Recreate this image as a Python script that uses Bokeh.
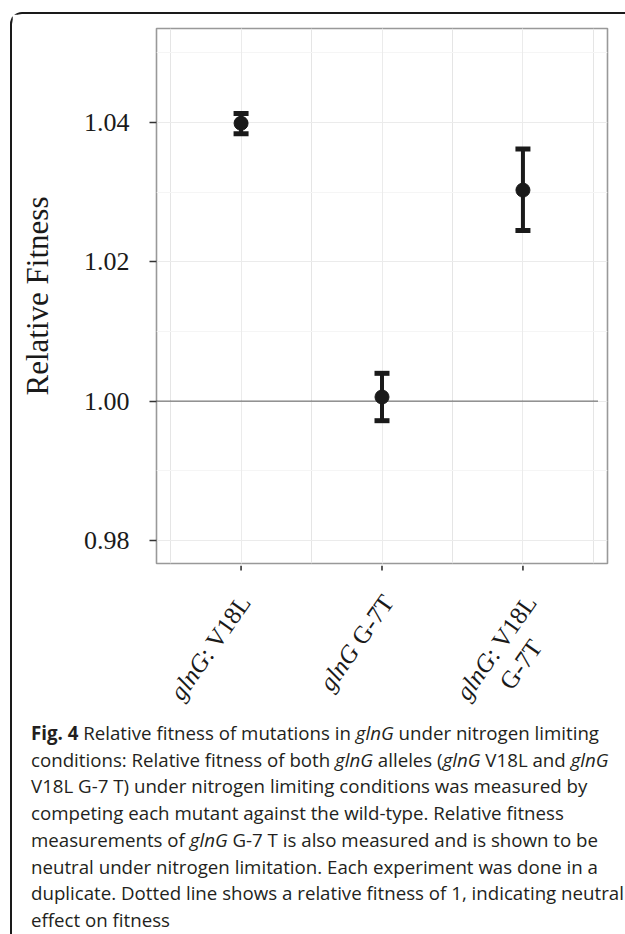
import math
from bokeh.plotting import figure
from bokeh.models import FixedTicker, Label, Div, Range1d, NumeralTickFormatter, Grid
from bokeh.layouts import column
from bokeh.embed import file_html
from bokeh.resources import INLINE

# ---------------- data ----------------
categories = ["glnG: V18L", "glnG G-7T", "glnG: V18L G-7T"]
cat_pos = [1, 2, 3]
fitness_mean = [1.0399, 1.0006, 1.0303]
fitness_upper = [1.0413, 1.0040, 1.0362]
fitness_lower = [1.0384, 0.9972, 1.0245]
y_ticks = [0.98, 1.00, 1.02, 1.04]
y_minor = [0.99, 1.01, 1.03, 1.05]
neutral_fitness = 1.0
neutral_x = [0.4, 3.53]
label_italic = ["glnG", "glnG", "glnG"]
label_upright = [": V18L", "\u00a0G-7T", ": V18L"]
label_second = ["", "", "G-7T"]

caption_html = (
    "<b>Fig. 4</b> Relative fitness of mutations in <i>glnG</i> under nitrogen limiting<br>"
    "conditions: Relative fitness of both <i>glnG</i> alleles (<i>glnG</i> V18L and <i>glnG</i><br>"
    "V18L G-7 T) under nitrogen limiting conditions was measured by<br>"
    "competing each mutant against the wild-type. Relative fitness<br>"
    "measurements of <i>glnG</i> G-7 T is also measured and is shown to be<br>"
    "neutral under nitrogen limitation. Each experiment was done in a<br>"
    "duplicate. Dotted line shows a relative fitness of 1, indicating neutral<br>"
    "effect on fitness"
)

# ---------------- layout constants ----------------
X_START, X_END = 0.4, 3.6
Y_START, Y_END = 0.9767, 1.0535
W = 612
H1, H2 = 551, 150
ML, MR, MT, MB = 144, 17, 14, 2
SERIF = "Liberation Serif"
INK = "#1a1a1a"

x_range = Range1d(X_START, X_END)
p = figure(width=W, height=H1, output_backend="svg", toolbar_location=None,
           x_range=x_range, y_range=Range1d(Y_START, Y_END),
           x_axis_location=None,
           min_border_left=ML, min_border_right=MR, min_border_top=MT,
           min_border_bottom=MB)
p.background_fill_color = "white"
p.border_fill_color = "white"
p.outline_line_color = "#999999"
p.outline_line_width = 1.6

# y axis
p.yaxis.ticker = FixedTicker(ticks=y_ticks, minor_ticks=y_minor)
p.yaxis.formatter = NumeralTickFormatter(format="0.00")
ax = p.yaxis[0]
ax.axis_line_color = None
ax.major_tick_in = 0
ax.major_tick_out = 7
ax.major_tick_line_color = "#333333"
ax.major_tick_line_width = 1.6
ax.minor_tick_line_color = None
ax.major_label_text_font = SERIF
ax.major_label_text_font_size = "26px"
ax.major_label_text_color = INK
ax.major_label_standoff = 20
ax.axis_label = "Relative Fitness"
ax.axis_label_text_font = SERIF
ax.axis_label_text_font_size = "31px"
ax.axis_label_text_font_style = "normal"
ax.axis_label_text_color = INK
ax.axis_label_standoff = 26

# grid
p.ygrid.grid_line_color = "#ebebeb"
p.ygrid.minor_grid_line_color = "#f5f5f5"
p.add_layout(Grid(dimension=0, ticker=FixedTicker(ticks=cat_pos),
                  grid_line_color="#ebebeb"))

# neutral reference line (dotted)
p.line(neutral_x, [neutral_fitness] * len(neutral_x), line_color="#000000",
       line_width=1.2, line_dash="1 1")

# error bars
p.segment(x0=cat_pos, y0=fitness_lower, x1=cat_pos, y1=fitness_upper,
          line_color=INK, line_width=4)
p.rect(x=cat_pos + cat_pos, y=fitness_upper + fitness_lower,
       width=15, height=5, width_units="screen", height_units="screen",
       fill_color=INK, line_color=None)
# points
p.scatter(cat_pos, fitness_mean, size=14, fill_color=INK, line_color=INK)

# ---------------- category axis strip (ticks + rotated labels) ----------------
p2 = figure(width=W, height=H2, output_backend="svg", toolbar_location=None,
            x_range=x_range, y_range=Range1d(H2, 0),
            x_axis_location=None, y_axis_location=None,
            min_border_left=ML, min_border_right=MR, min_border_top=0,
            min_border_bottom=0)
p2.outline_line_color = None
p2.background_fill_color = "white"
p2.border_fill_color = "white"
p2.grid.visible = False

# tick marks below the panel (y in pixels from strip top)
TICK_LEN = 5
p2.segment(x0=cat_pos, y0=[0] * len(cat_pos), x1=cat_pos,
           y1=[TICK_LEN] * len(cat_pos), line_color="#333333", line_width=1.6)

px_x = (W - ML - MR) / (X_END - X_START)
ang = math.radians(55)
ux, uy = math.cos(ang), math.sin(ang)
FS = 25
upright_em = {": V18L": 2.861, "\u00a0G-7T": 2.416}
end_dx = [4, 6, 8]
end_dy = 32  # pixels below strip top

for i, c in enumerate(cat_pos):
    w2 = upright_em[label_upright[i]] * FS
    jx = end_dx[i] - w2 * ux
    jy = end_dy + w2 * uy
    p2.add_layout(Label(x=c + jx / px_x, y=jy, text=label_italic[i], angle=ang,
                        text_align="right", text_baseline="middle",
                        text_font=SERIF, text_font_style="italic",
                        text_font_size=f"{FS}px", text_color=INK))
    p2.add_layout(Label(x=c + jx / px_x, y=jy, text=label_upright[i], angle=ang,
                        text_align="left", text_baseline="middle",
                        text_font=SERIF, text_font_size=f"{FS}px",
                        text_color=INK))
    if label_second[i]:
        l1 = (2.0 + upright_em[label_upright[i]]) * FS
        cx = end_dx[i] - l1 / 2 * ux + 30 * uy
        cy = end_dy + l1 / 2 * uy + 30 * ux
        p2.add_layout(Label(x=c + cx / px_x, y=cy, text=label_second[i],
                            angle=ang, text_align="center",
                            text_baseline="middle", text_font=SERIF,
                            text_font_size=f"{FS}px", text_color=INK))

div = Div(
    text=("<div style=\"padding-left:14px; font-family:'Open Sans'; font-size:18.7px; "
          "line-height:26.7px; color:#231f20; white-space:nowrap;\">"
          + caption_html + "</div>"),
    width=W, height=216)

layout = column(p, p2, div, margin=(12, 0, 0, 10),
                styles={"border-left": "2px solid #1a1a1a",
                        "border-top": "2px solid #1a1a1a",
                        "border-top-left-radius": "12px"})

open("out.html", "w").write(file_html(layout, INLINE))
